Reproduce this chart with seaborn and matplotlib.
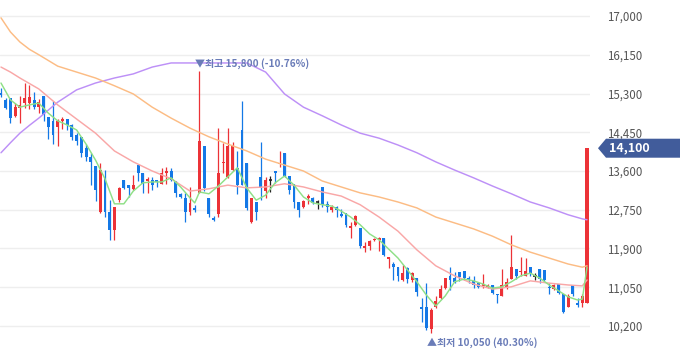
import matplotlib
matplotlib.use("Agg")
import numpy as np
import pandas as pd
import seaborn as sns
import matplotlib.pyplot as plt
from matplotlib.patches import Polygon

# ---------------- data ----------------
opens = [15310, 15160, 15200, 14810, 14980, 15090, 15090, 15160, 15000, 15250,
         14790, 14700, 14570, 14700, 14740, 14610, 14390, 14350, 14100, 13910,
         13710, 12700, 13450, 12700, 12310, 12960, 13400, 13290, 13210, 13730,
         13560, 13380, 13400, 13400, 13320, 13560, 13600, 13380, 13100, 13010,
         12700, 12790, 13120, 14150, 13010, 12570, 12660, 13780, 13470, 13620,
         13670, 14500, 13780, 12480, 12920, 13470, 13160, 13400, 13600, 13750,
         14000, 13490, 13320, 12920, 12810, 13010, 13010, 12920, 13250, 12880,
         12750, 12810, 12660, 12680, 12350, 12420, 12350, 11910, 11960, 12090,
         12090, 12130, 11670, 11560, 11490, 11210, 11470, 11210, 11250, 10620,
         10620, 10130, 10620, 10810, 11030, 11300, 11250, 11390, 11410, 11250,
         11190, 11140, 11080, 11060, 11100, 10900, 10860, 11030, 11230, 11450,
         11390, 11300, 11490, 11300, 11450, 11430, 11050, 11010, 11120, 10900,
         10620, 11100, 10700, 10700, 10700]
closes = [15270, 14980, 14760, 15000, 15050, 15200, 15220, 15000, 15110, 14830,
          14570, 14390, 14700, 14740, 14610, 14350, 14260, 14000, 13910, 13800,
          13180, 13620, 12700, 12310, 12810, 13230, 13230, 13230, 13290, 13560,
          13320, 13430, 13290, 13360, 13560, 13600, 13400, 13120, 13030, 12700,
          12900, 12750, 14260, 13230, 12660, 12530, 13560, 13800, 14150, 14150,
          13290, 13290, 12790, 13010, 12700, 13230, 13400, 13400, 13560, 13780,
          13490, 13180, 12920, 12750, 12940, 13050, 12900, 12920, 12860, 12810,
          12810, 12750, 12610, 12420, 12400, 12610, 11960, 11960, 12070, 12110,
          12130, 11760, 11710, 11490, 11300, 11360, 11230, 11360, 10950, 10570,
          10160, 10550, 10750, 11010, 11250, 11210, 11170, 11280, 11250, 11210,
          11100, 11050, 11120, 11100, 10920, 10880, 11100, 11170, 11490, 11300,
          11410, 11410, 11360, 11300, 11230, 11210, 11030, 11100, 10920, 10510,
          10860, 10900, 10660, 10850, 14100]
highs = [15420, 15200, 15200, 15090, 15250, 15530, 15490, 15330, 15180, 15250,
         14790, 15140, 14740, 14790, 14740, 14630, 14430, 14350, 14190, 14000,
         13710, 13780, 13620, 12960, 12810, 13250, 13400, 13290, 13510, 13750,
         13560, 13470, 13470, 13400, 13670, 13690, 13670, 13380, 13120, 13120,
         13250, 12860, 15800, 14150, 13010, 12610, 14540, 14220, 14540, 14240,
         14040, 15140, 13780, 13010, 12920, 14240, 13470, 13490, 13600, 14040,
         14000, 13490, 13320, 12920, 12960, 13100, 13030, 12960, 13250, 12940,
         12860, 12830, 12770, 12680, 12480, 12640, 12350, 12040, 12090, 12130,
         12150, 12130, 11710, 11600, 11490, 11540, 11490, 11390, 11250, 10810,
         11140, 10600, 10860, 11100, 11250, 11490, 11390, 11390, 11410, 11300,
         11300, 11140, 11340, 11120, 11100, 10900, 11450, 11250, 12200, 11450,
         11710, 11690, 11490, 11360, 11450, 11430, 11140, 11120, 11120, 10900,
         10900, 11100, 10810, 10900, 14100]
lows = [15220, 14960, 14650, 14790, 14650, 14980, 14960, 14960, 14870, 14700,
        14300, 14190, 14150, 14520, 14500, 14280, 14170, 13910, 13820, 13290,
        12940, 12680, 12590, 12090, 12090, 12920, 13210, 13030, 13180, 13380,
        13120, 13120, 13180, 13250, 13320, 13320, 13380, 13030, 13010, 12480,
        12640, 12700, 13120, 13160, 12590, 12500, 12590, 13560, 13450, 13600,
        13100, 13290, 12750, 12460, 12530, 12960, 13010, 13140, 13340, 13690,
        13470, 13100, 12790, 12590, 12790, 12880, 12880, 12770, 12810, 12700,
        12700, 12590, 12590, 12370, 12130, 12400, 11910, 11820, 11870, 12070,
        11850, 11740, 11470, 11210, 11190, 11190, 11140, 11170, 10860, 10290,
        10110, 10050, 10600, 10790, 11010, 10990, 11140, 11190, 11210, 11140,
        11030, 11030, 11030, 11040, 10900, 10700, 10860, 11010, 11230, 11230,
        11300, 11300, 11300, 11210, 11140, 11190, 10900, 10990, 10900, 10490,
        10620, 10860, 10620, 10620, 10700]

# moving averages at these candle positions
ma5_idx = [0, 2, 4, 6, 8, 10, 12, 14, 16, 18, 20, 22, 24, 26, 28, 30, 32, 34, 36, 38,
           40, 41, 42, 44, 46, 48, 50, 52, 54, 56, 58, 60, 62, 64, 66, 68, 70, 72, 74,
           76, 78, 80, 82, 84, 86, 88, 90, 92, 94, 96, 98, 100, 102, 104, 106, 108,
           110, 112, 114, 116, 118, 120, 122, 123, 124]
ma5_val = [15530, 15160, 15000, 15050, 15090, 14870, 14700, 14610, 14500, 14190,
           13840, 13430, 12880, 12880, 13160, 13340, 13360, 13360, 13450, 13250,
           13010, 12900, 13140, 13100, 13270, 13470, 13670, 13230, 12960, 13070,
           13340, 13490, 13290, 13030, 12900, 12860, 12830, 12720, 12590, 12420,
           12220, 12090, 11890, 11690, 11430, 11170, 10880, 10640, 10860, 11170,
           11230, 11190, 11120, 11030, 11060, 11170, 11300, 11360, 11250, 11100,
           10970, 10840, 10770, 10790, 11490]
ma_idx = [0, 2, 4, 6, 8, 12, 16, 20, 24, 28, 32, 36, 40, 44, 48, 52, 56, 60, 64, 68, 72,
          76, 80, 84, 88, 92, 96, 100, 104, 108, 112, 116, 120, 123, 124]
ma20_val = [15880, 15770, 15640, 15520, 15400, 15050, 14740, 14430, 14040, 13800,
            13600, 13430, 13160, 13210, 13290, 13230, 13250, 13320, 13250, 13140,
            13050, 12860, 12590, 12280, 11870, 11520, 11300, 11120, 11010, 11060,
            11190, 11140, 11100, 11080, 11210]
ma60_val = [16960, 16650, 16430, 16270, 16150, 15900, 15770, 15640, 15470, 15290,
            15000, 14760, 14540, 14350, 14190, 14040, 13860, 13730, 13600, 13380,
            13250, 13120, 13030, 12920, 12790, 12590, 12460, 12330, 12170, 11980,
            11820, 11690, 11560, 11490, 11520]
ma120_val = [14000, 14220, 14430, 14600, 14760, 15110, 15380, 15530, 15640, 15730,
             15880, 15970, 15970, 15970, 15970, 15970, 15770, 15290, 15000, 14810,
             14610, 14430, 14320, 14170, 14000, 13800, 13620, 13450, 13270, 13100,
             12920, 12790, 12640, 12550, 12530]

y_ticks = [10200, 11050, 11900, 12750, 13600, 14450, 15300, 16150, 17000]
last_price = 14100

# ---------------- styling ----------------
sns.set_theme(style="white")
plt.rcParams["font.family"] = ["Noto Sans CJK KR", "DejaVu Sans"]

RED = "#ec3237"
BLUE = "#1478e6"
DOJI = "#222222"

fig = plt.figure(figsize=(6.8, 3.58), dpi=100)
ax = fig.add_axes([0, 0, 590 / 680, 1])

n = len(opens)
x = np.arange(n)
o = np.array(opens, float)
c = np.array(closes, float)
h = np.array(highs, float)
l = np.array(lows, float)

up = c > o
down = c < o
flat = c == o
col = np.where(up, RED, np.where(down, BLUE, DOJI))

# wicks
ax.vlines(x, l, h, colors=col, linewidth=0.9, zorder=2)
# bodies
body_bottom = np.minimum(o, c)
body_h = np.maximum(np.abs(c - o), 22)
widths = np.full(n, 0.62)
widths[-1] = 0.85
ax.bar(x[~flat], body_h[~flat], bottom=body_bottom[~flat], width=widths[~flat],
       color=col[~flat], linewidth=0, zorder=2)
ax.hlines(c[flat], x[flat] - 0.34, x[flat] + 0.34, colors=DOJI, linewidth=1.2, zorder=2)

# moving averages via seaborn
frames = [
    pd.DataFrame({"idx": ma_idx, "val": ma120_val, "ma": "MA120"}),
    pd.DataFrame({"idx": ma_idx, "val": ma60_val, "ma": "MA60"}),
    pd.DataFrame({"idx": ma_idx, "val": ma20_val, "ma": "MA20"}),
    pd.DataFrame({"idx": ma5_idx, "val": ma5_val, "ma": "MA5"}),
]
df = pd.concat(frames, ignore_index=True)
palette = {"MA5": "#8fe087", "MA20": "#f9a7a7", "MA60": "#fcbc84", "MA120": "#bd90f7"}
sns.lineplot(data=df, x="idx", y="val", hue="ma", palette=palette, legend=False,
             linewidth=1.05, ax=ax, zorder=3, estimator=None, sort=True)

# axes
ax.set_xlim(-0.21, 124.63)
ax.set_ylim(9498, 17351)
ax.set_yticks(y_ticks)
ax.set_yticklabels([f"{v:,}" for v in y_ticks])
ax.yaxis.tick_right()
ax.tick_params(axis="y", length=0, pad=12, labelsize=8.3, labelcolor="#555555")
ax.set_xticks([])
ax.set_xlabel("")
ax.set_ylabel("")
for s in ax.spines.values():
    s.set_visible(False)
ax.grid(axis="y", color="#eeeeee", linewidth=1.0, zorder=0)
ax.set_axisbelow(True)
ax.patch.set_alpha(0)

# high / low annotations
imax = int(np.argmax(h))
imin = int(np.argmin(l))
pct_hi = (last_price / h[imax] - 1) * 100
pct_lo = (last_price / l[imin] - 1) * 100
ax.annotate(f"▼최고 {int(h[imax]):,} ({pct_hi:.2f}%)", xy=(x[imax], h[imax]),
            xytext=(-3, 1), textcoords="offset points", ha="left", va="bottom",
            fontsize=7.2, color="#6a7cb8", fontweight="bold", zorder=5)
ax.annotate(f"▲최저 {int(l[imin]):,} ({pct_lo:.2f}%)", xy=(x[imin], l[imin]),
            xytext=(-3, -3), textcoords="offset points", ha="left", va="top",
            fontsize=7.2, color="#6a7cb8", fontweight="bold", zorder=5)

# last price tag on the right
fig.canvas.draw()
yd = ax.transData.transform((0, last_price))[1]
poly = Polygon([(598, yd), (606, yd + 9.5), (680, yd + 9.5), (680, yd - 9.5), (606, yd - 9.5)],
               closed=True, transform=None, facecolor="#415c9b", edgecolor="none", zorder=10)
fig.patches.append(poly)
fig.text(609 / 680, yd / 358, f"{last_price:,}", color="white", fontsize=9,
         fontweight="bold", va="center", ha="left", zorder=20)

fig.savefig("out.png", dpi=100)
